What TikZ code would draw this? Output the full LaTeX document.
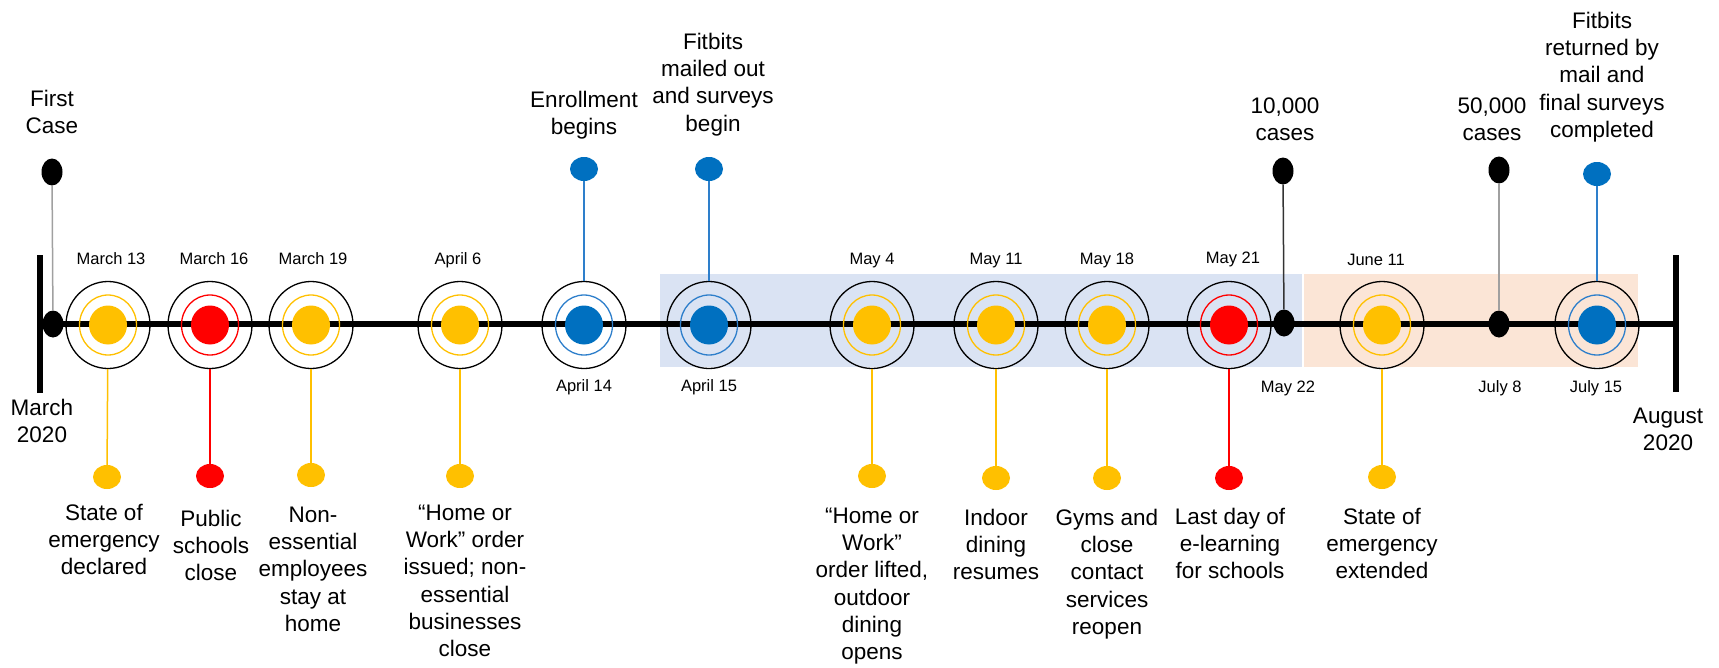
\documentclass[tikz,border=0pt]{standalone}
\usepackage{fontspec}
\setmainfont{Liberation Sans}
\usetikzlibrary{shapes.geometric}

\definecolor{evyellow}{HTML}{FFC000}
\definecolor{evred}{HTML}{FF0000}
\definecolor{evblue}{HTML}{0070C0}
\definecolor{evbluering}{HTML}{2E7FCB}
\definecolor{bandblue}{HTML}{DAE3F3}
\definecolor{bandpeach}{HTML}{FBE5D6}
\definecolor{stemgray}{HTML}{A0A0A0}

\newcommand\bigfont{\fontsize{22.5}{27.3}\selectfont}
\newcommand\datefont{\fontsize{16.5}{19}\selectfont}

\begin{document}
\begin{tikzpicture}[x=1pt,y=-1pt,
  evouter/.style={ellipse, draw=black, line width=1.3pt, minimum width=84pt, minimum height=87pt, inner sep=0pt},
  evring/.style={ellipse, draw=#1, line width=1.3pt, minimum width=57pt, minimum height=60pt, inner sep=0pt},
  evcore/.style={ellipse, fill=#1, minimum width=38pt, minimum height=39pt, inner sep=0pt},
  evpin/.style={ellipse, fill=#1, minimum width=28pt, minimum height=24pt, inner sep=0pt},
  evtick/.style={ellipse, fill=black, minimum width=21pt, minimum height=27pt, inner sep=0pt},
  evtext/.style={font=\bigfont, align=center, inner sep=0pt, anchor=north},
  evdate/.style={font=\datefont, inner sep=0pt, anchor=base},
  evstem/.style={draw=#1, line width=1.5pt}
]
\useasboundingbox (0,0) rectangle (1719,667);

% shaded periods
\fill[bandblue] (660,274) rectangle (1302,367);
\fill[bandpeach] (1304,274) rectangle (1638,367);

% axis with end bars
\coordinate (axstart) at (40,324);
\coordinate (axend) at (1676,324);
\draw[line width=6pt] (axstart) -- (axend);
\draw[line width=5.5pt] ([yshift=-69pt]axstart) -- ([yshift=69pt]axstart);
\draw[line width=5.5pt] ([yshift=-68pt]axend) -- ([yshift=69pt]axend);
\node[evtext] (mar20) at (42,395.9) {\strut March\\2020};
\node[evtext] (aug20) at (1668,403.9) {\strut August\\2020};

% milestones on the axis
\foreach \n/\x/\rc/\cc in {m13/108/evyellow/evyellow, m16/210/evred/evred,
    m19/311/evyellow/evyellow, a06/460/evyellow/evyellow,
    a14/584/evbluering/evblue, a15/709/evbluering/evblue,
    y04/872/evyellow/evyellow, y11/996/evyellow/evyellow,
    y18/1107/evyellow/evyellow, y21/1229/evred/evred,
    j11/1382/evyellow/evyellow, l15/1597/evbluering/evblue}{
  \node[evouter] (\n) at (\x,325) {};
  \node[evring=\rc] (\n r) at (\x,325) {};
  \node[evcore=\cc] (\n c) at (\x,325) {};
}

% case-count ticks on the axis
\node[evtick] (t01) at (53,324) {};
\node[evtick] (t22) at (1284,323) {};
\node[evtick] (t08) at (1499,324) {};

% dates
\node[evdate] (dm13) at (111,264) {March 13};
\node[evdate] (dm16) at (214,264) {March 16};
\node[evdate] (dm19) at (313,264) {March 19};
\node[evdate] (da06) at (458,264) {April 6};
\node[evdate] (dy04) at (872,264) {May 4};
\node[evdate] (dy11) at (996,264) {May 11};
\node[evdate] (dy18) at (1107,264) {May 18};
\node[evdate] (dy21) at (1233,263) {May 21};
\node[evdate] (dj11) at (1376,265) {June 11};
\node[evdate] (da14) at (584,391) {April 14};
\node[evdate] (da15) at (709,391) {April 15};
\node[evdate] (dy22) at (1288,392) {May 22};
\node[evdate] (dl08) at (1500,392) {July 8};
\node[evdate] (dl15) at (1596,392) {July 15};

% events above the axis
\node[evtick] (p01) at (52,172) {};
\node[evpin=evblue] (pen) at (584,169) {};
\node[evpin=evblue] (pfm) at (709,169) {};
\node[evtick] (p10k) at (1283,171) {};
\node[evtick] (p50k) at (1499,170) {};
\node[evpin=evblue] (pfr) at (1597,174) {};

\draw[evstem=stemgray] (p01) -- (t01);
\draw[evstem=evbluering] (pen) -- (a14);
\draw[evstem=evbluering] (pfm) -- (a15);
\draw[evstem=black!80] (p10k) -- (t22);
\draw[evstem=stemgray] (p50k) -- (t08);
\draw[evstem=evbluering] (pfr) -- (l15);

\node[evtext] (x01) at (52,86.9) {\strut First\\Case};
\node[evtext] (xen) at (584,87.9) {\strut Enrollment\\begins};
\node[evtext] (xfm) at (713,29.9) {\strut Fitbits\\mailed out\\and surveys\\begin};
\node[evtext] (x10k) at (1285,93.9) {\strut 10,000\\cases};
\node[evtext] (x50k) at (1492,93.9) {\strut 50,000\\cases};
\node[evtext] (xfr) at (1602,8.9) {\strut Fitbits\\returned by\\mail and\\final surveys\\completed};

% events below the axis
\node[evpin=evyellow] (b13) at (107,477) {};
\node[evpin=evred]    (b16) at (210,476) {};
\node[evpin=evyellow] (b19) at (311,475) {};
\node[evpin=evyellow] (b06) at (460,476) {};
\node[evpin=evyellow] (b04) at (872,476) {};
\node[evpin=evyellow] (b11) at (996,478) {};
\node[evpin=evyellow] (b18) at (1107,478) {};
\node[evpin=evred]    (b21) at (1229,478) {};
\node[evpin=evyellow] (bj11) at (1382,477) {};

\draw[evstem=evyellow] (m13) -- (b13);
\draw[evstem=evred]    (m16) -- (b16);
\draw[evstem=evyellow] (m19) -- (b19);
\draw[evstem=evyellow] (a06) -- (b06);
\draw[evstem=evyellow] (y04) -- (b04);
\draw[evstem=evyellow] (y11) -- (b11);
\draw[evstem=evyellow] (y18) -- (b18);
\draw[evstem=evred]    (y21) -- (b21);
\draw[evstem=evyellow] (j11) -- (bj11);

\node[evtext] (w13) at (104,500.9) {\strut State of\\emergency\\declared};
\node[evtext] (w16) at (211,506.9) {\strut Public\\schools\\close};
\node[evtext] (w19) at (313,502.9) {\strut Non-\\essential\\employees\\stay at\\home};
\node[evtext] (w06) at (465,500.9) {\strut “Home or\\Work” order\\issued; non-\\essential\\businesses\\close};
\node[evtext] (w04) at (872,503.9) {\strut “Home or\\Work”\\order lifted,\\outdoor\\dining\\opens};
\node[evtext] (w11) at (996,505.9) {\strut Indoor\\dining\\resumes};
\node[evtext] (w18) at (1107,505.9) {\strut Gyms and\\close\\contact\\services\\reopen};
\node[evtext] (w21) at (1230,504.9) {\strut Last day of\\e-learning\\for schools};
\node[evtext] (wj11) at (1382,504.9) {\strut State of\\emergency\\extended};
\end{tikzpicture}
\end{document}
